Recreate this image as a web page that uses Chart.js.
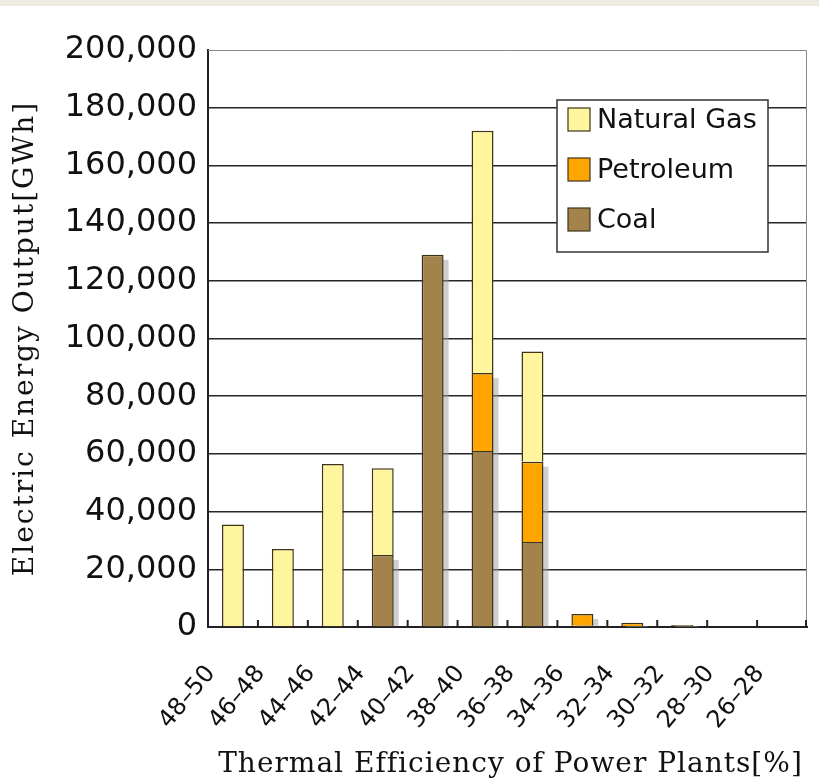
<!DOCTYPE html>
<html>
<head>
<meta charset="utf-8">
<script src="https://cdn.jsdelivr.net/npm/chart.js@4/dist/chart.umd.min.js"></script>
<style>
  html, body { margin: 0; padding: 0; background: #fff; }
  #wrap { position: relative; width: 819px; height: 781px; }
  #strip { position: absolute; left: 0; top: 0; width: 819px; height: 6px; background: #eeebe1; }
  canvas { position: absolute; left: 0; top: 0; }
</style>
</head>
<body>
<div id="wrap">
  <canvas id="chart" width="819" height="781"></canvas>
  <div id="strip"></div>
</div>
<script>
// Efficiency bands (left = most efficient)
const categories = ['48–50', '46–48', '44–46', '42–44', '40–42', '38–40',
                    '36–38', '34–36', '32–34', '30–32', '28–30', '26–28'];

// Electric energy output per band [GWh]
const coal       = [null, null, null, 25000, 129000, 61000, 29500, 400, null, 700, null, null];
const petroleum  = [null, null, null, null, null, 27000, 27800, 4100, 1500, null, null, null];
const naturalGas = [35500, 27000, 56500, 30000, null, 84000, 38200, null, null, null, null, null];

const yMax = 200000;
const yStep = 20000;

const xTitle = 'Thermal Efficiency of Power Plants[%]';
const yTitle = 'Electric Energy Output[GWh]';

const colors = {
    coal: '#a3824c',
    petroleum: '#ffa500',
    gas: '#fff59e',
    edge: '#3d3418'
};

// gray drop shadow behind the coal / petroleum part of each stack
const shadowPlugin = {
    id: 'barShadow',
    beforeDatasetsDraw(chart) {
        const ctx = chart.ctx;
        const area = chart.chartArea;
        const m0 = chart.getDatasetMeta(0);
        const m1 = chart.getDatasetMeta(1);
        ctx.save();
        ctx.beginPath();
        ctx.rect(area.left, area.top, area.right - area.left, area.bottom - area.top);
        ctx.clip();
        ctx.fillStyle = 'rgba(160,160,160,0.5)';
        categories.forEach((c, i) => {
            if (coal[i] == null && petroleum[i] == null) return;
            const ref = coal[i] != null ? m0.data[i] : m1.data[i];
            const top = petroleum[i] != null ? m1.data[i].y : m0.data[i].y;
            const base = ref.base;
            const w = ref.width;
            ctx.fillRect(ref.x - w / 2 + 5, top + 5, w, base - top - 5);
        });
        ctx.restore();
    }
};

// frame, inner x ticks, the boxed legend and the axis titles
const framePlugin = {
    id: 'frameLegend',
    afterDatasetsDraw(chart) {
        const ctx = chart.ctx;
        const area = chart.chartArea;
        const xs = chart.scales.x;
        ctx.save();

        // gray top / right border
        ctx.strokeStyle = '#8a8a8a';
        ctx.lineWidth = 1;
        ctx.beginPath();
        ctx.moveTo(area.left, area.top + 0.5);
        ctx.lineTo(area.right - 0.5, area.top + 0.5);
        ctx.lineTo(area.right - 0.5, area.bottom);
        ctx.stroke();

        // small tick marks between categories, pointing up
        ctx.strokeStyle = '#222';
        ctx.lineWidth = 2;
        for (let i = 1; i <= categories.length; i++) {
            const x = i < categories.length
                ? (xs.getPixelForValue(i - 1) + xs.getPixelForValue(i)) / 2
                : area.right - 1;
            ctx.beginPath();
            ctx.moveTo(x, area.bottom);
            ctx.lineTo(x, area.bottom - 7);
            ctx.stroke();
        }

        // legend box
        const left = area.right - 250;
        const top = area.top + 50;
        const w = 211, h = 152;
        ctx.fillStyle = '#fff';
        ctx.fillRect(left, top, w, h);
        ctx.strokeStyle = '#333';
        ctx.lineWidth = 1.5;
        ctx.strokeRect(left, top, w, h);

        const items = [
            { label: 'Natural Gas', color: colors.gas },
            { label: 'Petroleum', color: colors.petroleum },
            { label: 'Coal', color: colors.coal }
        ];
        ctx.font = '27px "DejaVu Sans"';
        ctx.textBaseline = 'middle';
        items.forEach((it, k) => {
            const cy = top + 20 + k * 50;
            ctx.fillStyle = it.color;
            ctx.fillRect(left + 11, cy - 12, 22, 23);
            ctx.strokeStyle = colors.edge;
            ctx.lineWidth = 1.2;
            ctx.strokeRect(left + 11, cy - 12, 22, 23);
            ctx.fillStyle = '#111';
            ctx.fillText(it.label, left + 40, cy + 1);
        });
        ctx.restore();
    },
    afterDraw(chart) {
        const ctx = chart.ctx;
        const area = chart.chartArea;
        ctx.save();
        ctx.fillStyle = '#111';
        ctx.textAlign = 'center';
        ctx.textBaseline = 'middle';

        ctx.font = '28px "DejaVu Serif"';
        ctx.letterSpacing = '1px';
        ctx.fillText(xTitle, (area.left + area.right) / 2 + 3, chart.height - 16);

        ctx.letterSpacing = '2px';
        ctx.translate(26, (area.top + area.bottom) / 2);
        ctx.rotate(-Math.PI / 2);
        ctx.fillText(yTitle, 0, 0);
        ctx.restore();
    }
};

const ctx = document.getElementById('chart').getContext('2d');

window.energyChart = new Chart(ctx, {
    type: 'bar',
    data: {
        labels: categories,
        datasets: [
            { label: 'Coal', data: coal, backgroundColor: colors.coal },
            { label: 'Petroleum', data: petroleum, backgroundColor: colors.petroleum },
            { label: 'Natural Gas', data: naturalGas, backgroundColor: colors.gas }
        ]
    },
    options: {
        responsive: false,
        animation: false,
        devicePixelRatio: 1,
        layout: { padding: { top: 50, right: 12, bottom: 0, left: 0 } },
        datasets: {
            bar: {
                barPercentage: 0.44,
                categoryPercentage: 1.0,
                borderColor: colors.edge,
                borderWidth: 1.5,
                borderSkipped: 'start'
            }
        },
        plugins: {
            legend: { display: false },
            tooltip: { enabled: false }
        },
        scales: {
            x: {
                stacked: true,
                offset: true,
                grid: { display: false, drawTicks: false },
                border: { display: true, color: '#222', width: 2 },
                ticks: {
                    color: '#111',
                    font: { family: 'DejaVu Sans', size: 24 },
                    minRotation: 50,
                    maxRotation: 50,
                    autoSkip: false,
                    padding: 33,
                    labelOffset: -22
                },
                title: { display: false },
                afterFit(scale) {
                    scale.height = 154;
                    scale.paddingLeft = 0;
                    scale.paddingRight = 0;
                }
            },
            y: {
                stacked: true,
                min: 0,
                max: yMax,
                grid: {
                    drawTicks: false,
                    color: (c) => (c.tick && c.tick.value === yMax ? 'rgba(0,0,0,0)' : '#262626'),
                    lineWidth: 1.6
                },
                border: { display: true, color: '#222', width: 2 },
                ticks: {
                    stepSize: yStep,
                    color: '#111',
                    font: { family: 'DejaVu Sans', size: 32 },
                    padding: 11,
                    callback: (v) => v.toLocaleString('en-US')
                },
                title: { display: false },
                afterFit(scale) { scale.width = 208; }
            }
        }
    },
    plugins: [shadowPlugin, framePlugin]
});
</script>
</body>
</html>
